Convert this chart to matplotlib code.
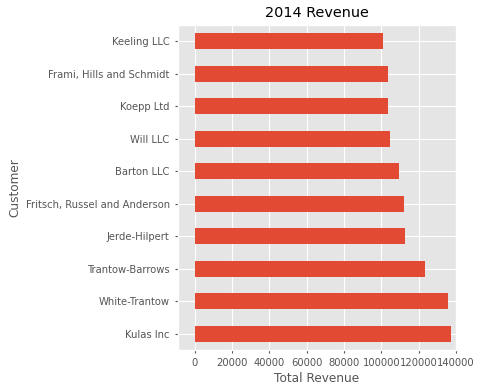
import matplotlib
matplotlib.use("Agg")
import matplotlib.pyplot as plt

plt.style.use("ggplot")

customers = ["Kulas Inc", "White-Trantow", "Trantow-Barrows", "Jerde-Hilpert",
             "Fritsch, Russel and Anderson", "Barton LLC", "Will LLC",
             "Koepp Ltd", "Frami, Hills and Schmidt", "Keeling LLC"]
revenue = [137351.96, 135841.99, 123381.38, 112591.43, 112214.71,
           109438.50, 104437.60, 103660.54, 103569.59, 100934.30]

fig = plt.figure(figsize=(4.81, 3.91), dpi=100)
ax = fig.add_axes([0.370, 0.105, 0.578, 0.831])
ax.barh(range(len(customers)), revenue, height=0.5, color="#E24A33")
ax.set_yticks(range(len(customers)))
ax.set_yticklabels(customers)
ax.set_xlim(-9000, 140000)
ax.set_ylim(-0.5, len(customers) - 0.5)
ax.set_xticks(range(0, 140001, 20000))
ax.set_title("2014 Revenue", fontsize=10.4)
ax.set_xlabel("Total Revenue", fontsize=8.7, labelpad=3)
ax.set_ylabel("Customer", fontsize=8.7, labelpad=3)
ax.tick_params(labelsize=7.2, length=2.5)
ax.grid(linewidth=0.8)

fig.savefig("out.png", dpi=100)
